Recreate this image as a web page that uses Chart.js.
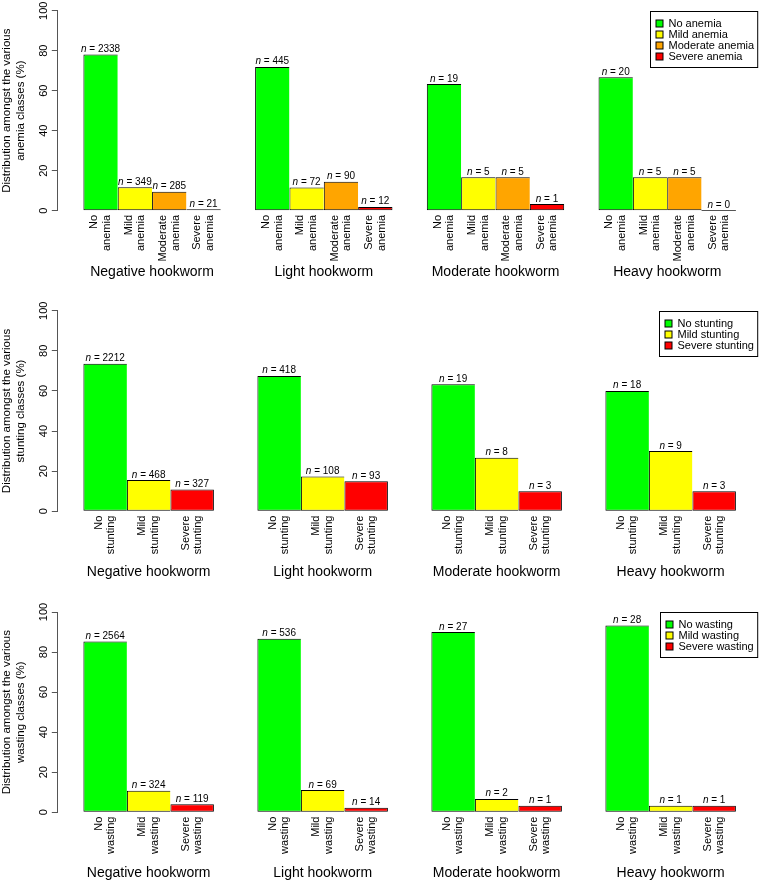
<!DOCTYPE html>
<html><head><meta charset="utf-8">
<script src="https://cdn.jsdelivr.net/npm/chart.js@4/dist/chart.umd.min.js"></script>
<style>
html,body{margin:0;padding:0;background:#fff;}
#wrap{position:relative;width:760px;height:883px;overflow:hidden;background:#fff;}
canvas{position:absolute;left:0;}
</style></head><body>
<div id="wrap">
<canvas id="c1" width="762" height="295" style="top:0px"></canvas>
<canvas id="c2" width="762" height="300" style="top:295px"></canvas>
<canvas id="c3" width="762" height="288" style="top:595px"></canvas>
</div>
<script>
// ---------- data ----------
const groups = ['Negative hookworm', 'Light hookworm', 'Moderate hookworm', 'Heavy hookworm'];

const anemiaClasses = ['No anemia', 'Mild anemia', 'Moderate anemia', 'Severe anemia'];
const anemiaNo       = [78.1, 71.9, 63.3, 66.7];
const anemiaMild     = [11.7, 11.6, 16.7, 16.7];
const anemiaModerate = [9.5, 14.5, 16.7, 16.7];
const anemiaSevere   = [0.7, 1.9, 3.3, 0.0];
const anemiaNoN       = [2338, 445, 19, 20];
const anemiaMildN     = [349, 72, 5, 5];
const anemiaModerateN = [285, 90, 5, 5];
const anemiaSevereN   = [21, 12, 1, 0];

const stuntingClasses = ['No stunting', 'Mild stunting', 'Severe stunting'];
const stuntingNo     = [73.6, 67.5, 63.3, 60.0];
const stuntingMild   = [15.6, 17.4, 26.7, 30.0];
const stuntingSevere = [10.9, 15.0, 10.0, 10.0];
const stuntingNoN     = [2212, 418, 19, 18];
const stuntingMildN   = [468, 108, 8, 9];
const stuntingSevereN = [327, 93, 3, 3];

const wastingClasses = ['No wasting', 'Mild wasting', 'Severe wasting'];
const wastingNo     = [85.3, 86.6, 90.0, 93.3];
const wastingMild   = [10.8, 11.1, 6.7, 3.3];
const wastingSevere = [4.0, 2.3, 3.3, 3.3];
const wastingNoN     = [2564, 536, 27, 28];
const wastingMildN   = [324, 69, 2, 1];
const wastingSevereN = [119, 14, 1, 1];

const yTicks = [0, 20, 40, 60, 80, 100];

// ---------- styling ----------
const FONT = "'Liberation Sans', Arial, Helvetica, sans-serif";
const COL4 = ['#00FF00', '#FFFF00', '#FFA500', '#FF0000'];
const COL3 = ['#00FF00', '#FFFF00', '#FF0000'];
Chart.defaults.font.family = FONT;
Chart.defaults.color = '#000';

function drawN(ctx, x, yBase, n) {
  ctx.font = 'italic 10px ' + FONT;
  const w1 = ctx.measureText('n').width;
  ctx.font = '10px ' + FONT;
  const rest = ' = ' + n;
  const w2 = ctx.measureText(rest).width;
  const start = x - (w1 + w2) / 2;
  ctx.textAlign = 'left'; ctx.textBaseline = 'alphabetic';
  ctx.font = 'italic 10px ' + FONT; ctx.fillText('n', start, yBase);
  ctx.font = '10px ' + FONT; ctx.fillText(rest, start + w1, yBase);
}

const annotate = {
  id: 'annotate',
  afterDraw(chart) {
    const ctx = chart.ctx;
    const ds = chart.data.datasets;
    const y0 = chart.scales.y.getPixelForValue(0);
    ctx.save();
    ctx.fillStyle = '#000';
    const gx = [];
    ds.forEach((d, k) => {
      const meta = chart.getDatasetMeta(k);
      meta.data.forEach((bar, i) => {
        if (d.data[i].y === 0) {
          ctx.save();
          ctx.strokeStyle = '#555'; ctx.lineWidth = 1;
          ctx.beginPath();
          ctx.moveTo(bar.x - bar.width / 2, Math.round(y0) - 0.5);
          ctx.lineTo(bar.x + bar.width / 2, Math.round(y0) - 0.5);
          ctx.stroke();
          ctx.restore();
        }
        drawN(ctx, bar.x, bar.y - 2.5, d.counts[i]);
        const words = d.label.split(' ');
        ctx.save();
        ctx.translate(bar.x, y0 + 4.3);
        ctx.rotate(-Math.PI / 2);
        ctx.font = '11px ' + FONT;
        ctx.textAlign = 'right'; ctx.textBaseline = 'middle';
        const lh = 12.5;
        words.forEach((w, j) => ctx.fillText(w, 0, (j - (words.length - 1) / 2) * lh));
        ctx.restore();
        (gx[i] = gx[i] || []).push(bar.x);
      });
    });
    ctx.font = '14px ' + FONT;
    ctx.textAlign = 'center'; ctx.textBaseline = 'middle';
    gx.forEach((xs, i) => {
      const c = xs.reduce((a, b) => a + b, 0) / xs.length;
      ctx.fillText(chart.data.groupLabels[i], c, y0 + 61);
    });
    // legend
    const ca = chart.chartArea;
    ctx.font = '11px ' + FONT;
    const tw = Math.max(...ds.map(d => ctx.measureText(d.label).width));
    const right = ca.right - 4.3, top = Math.round(ca.top) + 0.5;
    const w = tw + 22.4, h = ds.length * 11 + 12;
    const left = Math.round(right - w) + 0.5;
    ctx.strokeStyle = '#000'; ctx.lineWidth = 1;
    ctx.fillStyle = '#fff';
    ctx.fillRect(left, top, right - left, h);
    ctx.strokeRect(left, top, right - left, h);
    ds.forEach((d, k) => {
      const cy = top + 12 + k * 11;
      ctx.fillStyle = d.backgroundColor;
      ctx.fillRect(left + 5.5, cy - 3.5, 7, 7);
      ctx.strokeRect(left + 5.5, cy - 3.5, 7, 7);
      ctx.fillStyle = '#000'; ctx.textAlign = 'left'; ctx.textBaseline = 'middle';
      ctx.fillText(d.label, left + 18, cy);
    });
    ctx.restore();
  }
};

function makeChart(id, classes, colors, pcts, counts, titleLines, padTop, padBottom) {
  const K = classes.length;
  const datasets = classes.map((cls, k) => ({
    label: cls,
    data: groups.map((g, gi) => ({ x: gi * (K + 1) + 1.5 + k, y: pcts[k][gi] })),
    counts: counts[k],
    backgroundColor: colors[k],
    borderColor: '#000',
    borderWidth: { top: 1, left: 1, bottom: 1, right: k === K - 1 ? 1 : 0 },
    borderSkipped: false,
    inflateAmount: 0,
    grouped: false,
    categoryPercentage: 1,
    barPercentage: 1
  }));
  const span = 4 * (K + 1) - 1;
  const ext = span * 0.04;
  return new Chart(document.getElementById(id), {
    type: 'bar',
    data: { datasets, groupLabels: groups },
    options: {
      responsive: false,
      animation: false,
      layout: { padding: { top: padTop, bottom: padBottom, left: 0, right: 0 } },
      plugins: { legend: { display: false }, tooltip: { enabled: false } },
      scales: {
        x: {
          type: 'linear', display: false,
          min: 1 - ext, max: 4 * (K + 1) + ext,
          afterBuildTicks: s => { s.ticks = []; }
        },
        y: {
          min: 0, max: 100,
          afterBuildTicks: s => { s.ticks = yTicks.map(v => ({ value: v })); },
          afterFit: s => { s.width = 57.3; },
          border: { display: true, color: '#555', width: 1 },
          grid: { display: true, drawOnChartArea: false, drawTicks: true, tickLength: 5.5, color: '#555', lineWidth: 1 },
          ticks: { autoSkip: false, minRotation: 90, maxRotation: 90, crossAlign: 'center', padding: -1, color: '#000', font: { size: 11, family: FONT } },
          title: { display: true, text: titleLines, color: '#000', font: { size: 11.5, family: FONT, lineHeight: 1.2 }, padding: { top: 0, bottom: 0 } }
        }
      }
    },
    plugins: [annotate]
  });
}

makeChart('c1', anemiaClasses, COL4,
  [anemiaNo, anemiaMild, anemiaModerate, anemiaSevere],
  [anemiaNoN, anemiaMildN, anemiaModerateN, anemiaSevereN],
  ['Distribution amongst the various', 'anemia classes (%)'], 10.7, 84.3);
makeChart('c2', stuntingClasses, COL3,
  [stuntingNo, stuntingMild, stuntingSevere],
  [stuntingNoN, stuntingMildN, stuntingSevereN],
  ['Distribution amongst the various', 'stunting classes (%)'], 15.7, 83.7);
makeChart('c3', wastingClasses, COL3,
  [wastingNo, wastingMild, wastingSevere],
  [wastingNoN, wastingMildN, wastingSevereN],
  ['Distribution amongst the various', 'wasting classes (%)'], 17, 70.7);
</script>
</body></html>
